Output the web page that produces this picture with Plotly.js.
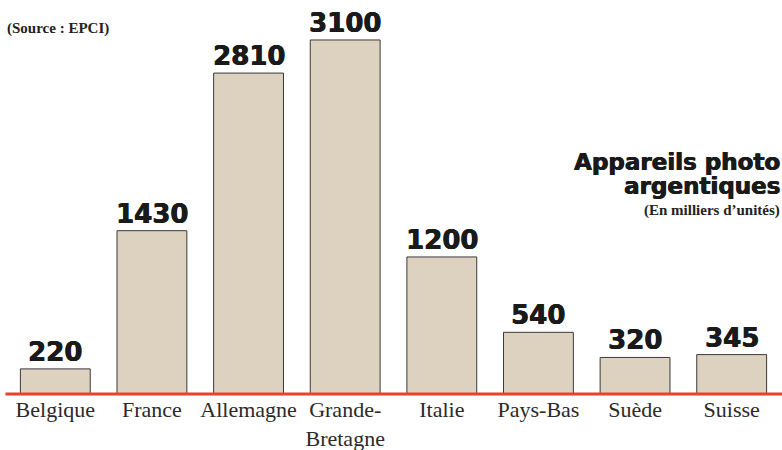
<!DOCTYPE html>
<html>
<head>
<meta charset="utf-8">
<script src="https://cdn.plot.ly/plotly-3.0.1.min.js"></script>
<style>html,body{margin:0;padding:0;background:#fff;}#chart{width:782px;height:450px;}</style>
</head>
<body>
<div id="chart"></div>
<script>
const categories = ["Belgique", "France", "Allemagne", "Grande-<br>Bretagne", "Italie", "Pays-Bas", "Suède", "Suisse"];
const values = [220, 1430, 2810, 3100, 1200, 540, 320, 345];
const valueLabels = ["220", "1430", "2810", "3100", "1200", "540", "320", "345"];

const heavy = "DejaVu Sans, Arial Black, sans-serif";
const serif = "Liberation Serif, Times New Roman, serif";
const thick = "0.6px 0 0 #1a1a1a, -0.3px 0 0 #1a1a1a";

const trace = {
  type: "bar",
  x: categories,
  y: values,
  marker: { color: "#ddd2bf", line: { color: "#3a3a3a", width: 1 } },
  hoverinfo: "none"
};

const annotations = categories.map((c, i) => ({
  x: c, y: values[i], xref: "x", yref: "y",
  text: valueLabels[i], showarrow: false,
  yanchor: "bottom", yshift: 0,
  font: { family: heavy, size: 26, color: "#1a1a1a", weight: 700, shadow: thick }
}));

annotations.push(
  { xref: "paper", yref: "paper", x: 0, y: 1, xanchor: "left", yanchor: "top",
    text: "<b>(Source : EPCI)</b>", showarrow: false,
    xshift: -2, yshift: -18, font: { family: serif, size: 15, color: "#222" } },
  { xref: "paper", yref: "paper", x: 1, y: 1, xanchor: "right", yanchor: "top",
    text: "Appareils photo", showarrow: false, yshift: -147, xshift: 2,
    font: { family: heavy, size: 23, color: "#1a1a1a", weight: 700, shadow: thick } },
  { xref: "paper", yref: "paper", x: 1, y: 1, xanchor: "right", yanchor: "top",
    text: "argentiques", showarrow: false, yshift: -171, xshift: 2,
    font: { family: heavy, size: 23, color: "#1a1a1a", weight: 700, shadow: thick } },
  { xref: "paper", yref: "paper", x: 1, y: 1, xanchor: "right", yanchor: "top",
    text: "<b>(En milliers d’unités)</b>", showarrow: false, yshift: -200, xshift: 2,
    font: { family: serif, size: 15, color: "#222" } }
);

const layout = {
  width: 782, height: 450,
  margin: { l: 7, r: 2, t: 0, b: 56, pad: 0 },
  paper_bgcolor: "#fff", plot_bgcolor: "#fff",
  bargap: 0.277,
  showlegend: false,
  xaxis: {
    type: "category",
    showline: false, showgrid: false, zeroline: false,
    ticks: "", ticklen: 0,
    tickfont: { family: serif, size: 22, color: "#2a2a2a" }
  },
  yaxis: {
    range: [0, 3450], visible: false, fixedrange: true
  },
  shapes: [{
    type: "line", xref: "paper", yref: "paper", layer: "above",
    x0: -0.002, x1: 1.005, y0: 0, y1: 0,
    line: { color: "#e8432a", width: 3 }
  }],
  annotations: annotations
};

Plotly.newPlot("chart", [trace], layout, { displayModeBar: false, staticPlot: true });
</script>
</body>
</html>
